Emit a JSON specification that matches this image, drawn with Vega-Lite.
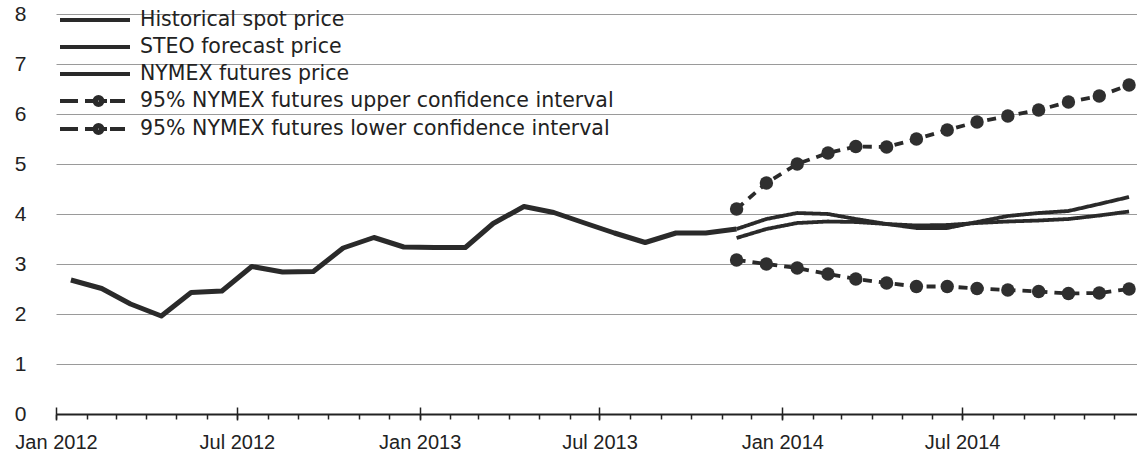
{
  "$schema": "https://vega.github.io/schema/vega-lite/v6.json",
  "width": 1081,
  "height": 400,
  "autosize": {"type": "none"},
  "padding": {"left": 56, "top": 14, "right": 0, "bottom": 41},
  "background": "white",
  "config": {"view": {"stroke": null}, "font": "Liberation Sans"},
  "data": {"values": [
    {"date": "2012-01-16", "series": "Historical spot price", "value": 2.68},
    {"date": "2012-02-16", "series": "Historical spot price", "value": 2.51},
    {"date": "2012-03-16", "series": "Historical spot price", "value": 2.2},
    {"date": "2012-04-16", "series": "Historical spot price", "value": 1.96},
    {"date": "2012-05-16", "series": "Historical spot price", "value": 2.43},
    {"date": "2012-06-16", "series": "Historical spot price", "value": 2.46},
    {"date": "2012-07-16", "series": "Historical spot price", "value": 2.95},
    {"date": "2012-08-16", "series": "Historical spot price", "value": 2.84},
    {"date": "2012-09-16", "series": "Historical spot price", "value": 2.85},
    {"date": "2012-10-16", "series": "Historical spot price", "value": 3.32},
    {"date": "2012-11-16", "series": "Historical spot price", "value": 3.53},
    {"date": "2012-12-16", "series": "Historical spot price", "value": 3.34},
    {"date": "2013-01-16", "series": "Historical spot price", "value": 3.33},
    {"date": "2013-02-16", "series": "Historical spot price", "value": 3.33},
    {"date": "2013-03-16", "series": "Historical spot price", "value": 3.81},
    {"date": "2013-04-16", "series": "Historical spot price", "value": 4.15},
    {"date": "2013-05-16", "series": "Historical spot price", "value": 4.03},
    {"date": "2013-06-16", "series": "Historical spot price", "value": 3.82},
    {"date": "2013-07-16", "series": "Historical spot price", "value": 3.62},
    {"date": "2013-08-16", "series": "Historical spot price", "value": 3.43},
    {"date": "2013-09-16", "series": "Historical spot price", "value": 3.62},
    {"date": "2013-10-16", "series": "Historical spot price", "value": 3.62},
    {"date": "2013-11-16", "series": "Historical spot price", "value": 3.7},
    {"date": "2013-11-16", "series": "STEO forecast price", "value": 3.7},
    {"date": "2013-12-16", "series": "STEO forecast price", "value": 3.9},
    {"date": "2014-01-16", "series": "STEO forecast price", "value": 4.02},
    {"date": "2014-02-16", "series": "STEO forecast price", "value": 4.0},
    {"date": "2014-03-16", "series": "STEO forecast price", "value": 3.9},
    {"date": "2014-04-16", "series": "STEO forecast price", "value": 3.8},
    {"date": "2014-05-16", "series": "STEO forecast price", "value": 3.72},
    {"date": "2014-06-16", "series": "STEO forecast price", "value": 3.72},
    {"date": "2014-07-16", "series": "STEO forecast price", "value": 3.84},
    {"date": "2014-08-16", "series": "STEO forecast price", "value": 3.96},
    {"date": "2014-09-16", "series": "STEO forecast price", "value": 4.02},
    {"date": "2014-10-16", "series": "STEO forecast price", "value": 4.06},
    {"date": "2014-11-16", "series": "STEO forecast price", "value": 4.2},
    {"date": "2014-12-16", "series": "STEO forecast price", "value": 4.34},
    {"date": "2013-11-16", "series": "NYMEX futures price", "value": 3.52},
    {"date": "2013-12-16", "series": "NYMEX futures price", "value": 3.7},
    {"date": "2014-01-16", "series": "NYMEX futures price", "value": 3.82},
    {"date": "2014-02-16", "series": "NYMEX futures price", "value": 3.85},
    {"date": "2014-03-16", "series": "NYMEX futures price", "value": 3.84},
    {"date": "2014-04-16", "series": "NYMEX futures price", "value": 3.8},
    {"date": "2014-05-16", "series": "NYMEX futures price", "value": 3.77},
    {"date": "2014-06-16", "series": "NYMEX futures price", "value": 3.78},
    {"date": "2014-07-16", "series": "NYMEX futures price", "value": 3.82},
    {"date": "2014-08-16", "series": "NYMEX futures price", "value": 3.85},
    {"date": "2014-09-16", "series": "NYMEX futures price", "value": 3.87},
    {"date": "2014-10-16", "series": "NYMEX futures price", "value": 3.9},
    {"date": "2014-11-16", "series": "NYMEX futures price", "value": 3.97},
    {"date": "2014-12-16", "series": "NYMEX futures price", "value": 4.05},
    {"date": "2013-11-16", "series": "95% NYMEX futures upper confidence interval", "value": 4.1},
    {"date": "2013-12-16", "series": "95% NYMEX futures upper confidence interval", "value": 4.62},
    {"date": "2014-01-16", "series": "95% NYMEX futures upper confidence interval", "value": 5.0},
    {"date": "2014-02-16", "series": "95% NYMEX futures upper confidence interval", "value": 5.22},
    {"date": "2014-03-16", "series": "95% NYMEX futures upper confidence interval", "value": 5.35},
    {"date": "2014-04-16", "series": "95% NYMEX futures upper confidence interval", "value": 5.34},
    {"date": "2014-05-16", "series": "95% NYMEX futures upper confidence interval", "value": 5.5},
    {"date": "2014-06-16", "series": "95% NYMEX futures upper confidence interval", "value": 5.68},
    {"date": "2014-07-16", "series": "95% NYMEX futures upper confidence interval", "value": 5.84},
    {"date": "2014-08-16", "series": "95% NYMEX futures upper confidence interval", "value": 5.96},
    {"date": "2014-09-16", "series": "95% NYMEX futures upper confidence interval", "value": 6.08},
    {"date": "2014-10-16", "series": "95% NYMEX futures upper confidence interval", "value": 6.24},
    {"date": "2014-11-16", "series": "95% NYMEX futures upper confidence interval", "value": 6.36},
    {"date": "2014-12-16", "series": "95% NYMEX futures upper confidence interval", "value": 6.58},
    {"date": "2013-11-16", "series": "95% NYMEX futures lower confidence interval", "value": 3.08},
    {"date": "2013-12-16", "series": "95% NYMEX futures lower confidence interval", "value": 3.0},
    {"date": "2014-01-16", "series": "95% NYMEX futures lower confidence interval", "value": 2.92},
    {"date": "2014-02-16", "series": "95% NYMEX futures lower confidence interval", "value": 2.8},
    {"date": "2014-03-16", "series": "95% NYMEX futures lower confidence interval", "value": 2.7},
    {"date": "2014-04-16", "series": "95% NYMEX futures lower confidence interval", "value": 2.62},
    {"date": "2014-05-16", "series": "95% NYMEX futures lower confidence interval", "value": 2.55},
    {"date": "2014-06-16", "series": "95% NYMEX futures lower confidence interval", "value": 2.55},
    {"date": "2014-07-16", "series": "95% NYMEX futures lower confidence interval", "value": 2.51},
    {"date": "2014-08-16", "series": "95% NYMEX futures lower confidence interval", "value": 2.48},
    {"date": "2014-09-16", "series": "95% NYMEX futures lower confidence interval", "value": 2.45},
    {"date": "2014-10-16", "series": "95% NYMEX futures lower confidence interval", "value": 2.41},
    {"date": "2014-11-16", "series": "95% NYMEX futures lower confidence interval", "value": 2.42},
    {"date": "2014-12-16", "series": "95% NYMEX futures lower confidence interval", "value": 2.5}
  ]},
  "layer": [
    {
      "transform": [{"filter": "datum.series === 'Historical spot price'"}],
      "mark": {"type": "line", "color": "#2a2a2a", "strokeWidth": 5, "strokeJoin": "round"},
      "encoding": {
        "x": {"field": "date", "type": "temporal",
          "scale": {"type": "utc", "domain": [{"year": 2012, "month": 1, "date": 1, "utc": true}, {"year": 2014, "month": 12, "date": 24, "utc": true}]},
          "axis": {"orient": "bottom", "tickCount": {"interval": "month", "step": 1}, "tickSize": 5, "tickColor": "#222", "tickWidth": 1.5, "labels": false, "domain": true, "domainColor": "#222", "domainWidth": 2, "grid": false, "title": null}},
        "y": {"field": "value", "type": "quantitative",
          "scale": {"domain": [0, 8], "nice": false},
          "axis": {"values": [0, 1, 2, 3, 4, 5, 6, 7, 8], "grid": true, "gridColor": "#9a9a9a", "gridWidth": 1, "domain": false, "ticks": false, "labelFontSize": 21, "labelFont": "Liberation Sans", "labelColor": "#222", "labelPadding": 30, "title": null}}
      }
    },
    {
      "transform": [{"filter": "datum.series !== 'Historical spot price'"}],
      "mark": {"type": "line", "color": "#2a2a2a", "strokeWidth": 3.8, "strokeJoin": "round"},
      "encoding": {
        "x": {"field": "date", "type": "temporal",
          "axis": {"orient": "bottom", "tickCount": {"interval": "month", "step": 6}, "tickSize": 6, "tickColor": "#222", "tickWidth": 1.5, "labels": true, "labelFlush": false, "format": "%b %Y", "labelFontSize": 20, "labelFont": "Liberation Sans", "labelColor": "#222", "labelPadding": 12, "domain": false, "grid": false, "title": null}},
        "y": {"field": "value", "type": "quantitative",
          "axis": {"values": [0, 1, 2, 3, 4, 5, 6, 7, 8], "grid": true, "gridColor": "#9a9a9a", "gridWidth": 1, "domain": false, "ticks": false, "labelFontSize": 21, "labelFont": "Liberation Sans", "labelColor": "#222", "labelPadding": 30, "title": null}},
        "strokeDash": {"field": "series", "type": "nominal", "legend": null,
          "scale": {"domain": ["STEO forecast price", "NYMEX futures price", "95% NYMEX futures upper confidence interval", "95% NYMEX futures lower confidence interval"], "range": [[1, 0], [1, 0], [9, 7], [9, 7]]}}
      }
    },
    {
      "transform": [{"filter": "indexof(datum.series, 'confidence') >= 0"}],
      "mark": {"type": "point", "filled": true, "color": "#2f2f2f", "size": 180, "opacity": 1},
      "encoding": {
        "x": {"field": "date", "type": "temporal",
          "axis": {"orient": "bottom", "tickCount": {"interval": "month", "step": 6}, "tickSize": -7, "tickColor": "#222", "tickWidth": 1.5, "labels": false, "domain": false, "grid": false, "title": null}},
        "y": {"field": "value", "type": "quantitative",
          "axis": {"values": [0, 1, 2, 3, 4, 5, 6, 7, 8], "grid": true, "gridColor": "#9a9a9a", "gridWidth": 1, "domain": false, "ticks": false, "labelFontSize": 21, "labelFont": "Liberation Sans", "labelColor": "#222", "labelPadding": 30, "title": null}}
      }
    },
    {
      "data": {"values": []},
      "mark": {"type": "point", "filled": false, "color": "#2a2a2a", "strokeWidth": 4, "opacity": 1},
      "encoding": {
        "shape": {"field": "series", "type": "nominal",
          "scale": {
            "domain": ["Historical spot price", "STEO forecast price", "NYMEX futures price", "95% NYMEX futures upper confidence interval", "95% NYMEX futures lower confidence interval"],
            "range": [
              "M-1.2,0L5.8,0",
              "M-1.2,0L5.8,0",
              "M-1.2,0L5.8,0",
              "M-1.2,0L0.6,0M1.3,0L2.1,0M2.25,0A0.4,0.4 0 1,0 3.05,0A0.4,0.4 0 1,0 2.25,0M2.5,0A0.15,0.15 0 1,0 2.8,0A0.15,0.15 0 1,0 2.5,0M3.2,0L3.5,0M3.8,0L5.3,0",
              "M-1.2,0L0.6,0M1.3,0L2.1,0M2.25,0A0.4,0.4 0 1,0 3.05,0A0.4,0.4 0 1,0 2.25,0M2.5,0A0.15,0.15 0 1,0 2.8,0A0.15,0.15 0 1,0 2.5,0M3.2,0L3.5,0M3.8,0L5.3,0"
            ]
          },
          "legend": {"orient": "none", "legendX": 4, "legendY": -6, "title": null, "symbolSize": 400,
            "symbolStrokeColor": "#2a2a2a", "symbolStrokeWidth": 4, "symbolOpacity": 1,
            "labelFontSize": 20.5, "labelFont": "DejaVu Sans", "labelColor": "#222", "labelOffset": 56, "rowPadding": 4, "padding": 0, "labelLimit": 700}
        }
      }
    }
  ],
  "resolve": {"axis": {"x": "independent"}}
}
